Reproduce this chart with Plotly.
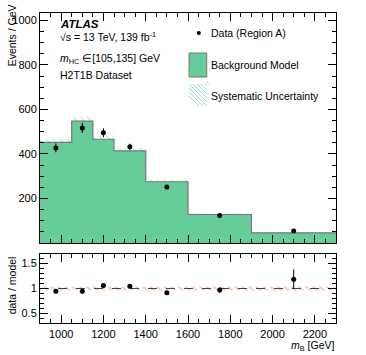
import plotly.graph_objects as go

# bins in m_B [GeV]
bin_edges = [900, 1050, 1150, 1250, 1400, 1600, 1900, 2300]
bin_centers = [975, 1100, 1200, 1325, 1500, 1750, 2100]
model = [452, 547, 466, 414, 275, 128, 45.5]
model_syst = [16, 19, 16, 14, 9, 4.5, 1.8]
data = [427, 517, 495, 432, 252, 124, 54]
data_err = [20, 23, 20, 14, 10, 7, 9]

y_ticks = [0, 200, 400, 600, 800, 1000]
y_ticktext = ["", "200", "400", "600", "800", "1000"]
r_ticks = [0.5, 1, 1.5]
r_ticktext = ["0.5", "1", "1.5"]
x_ticks = [1000, 1200, 1400, 1600, 1800, 2000, 2200]

GREEN = "#66cc99"
INK = "#000000"
FONT = "Liberation Sans, Arial, sans-serif"

W, H = 366, 355
L, R, T, B = 36, 30, 13, 32
PW, PH = W - L - R, H - T - B


def px(x, y):
    return (x - L) / PW, (H - B - y) / PH


def step(vals):
    return list(bin_edges), list(vals) + [vals[-1]]


def band(lo, hi):
    xs, ys = [], []
    for i in range(len(lo)):
        xs += [bin_edges[i], bin_edges[i + 1]]
        ys += [hi[i], hi[i]]
    for i in reversed(range(len(lo))):
        xs += [bin_edges[i + 1], bin_edges[i]]
        ys += [lo[i], lo[i]]
    return xs, ys


ratio = [d / m for d, m in zip(data, model)]
ratio_err = [e / m for e, m in zip(data_err, model)]
rel_syst = [s / m for s, m in zip(model_syst, model)]

fig = go.Figure()

bx, by = band([m - s for m, s in zip(model, model_syst)],
              [m + s for m, s in zip(model, model_syst)])
fig.add_trace(go.Scatter(
    x=bx, y=by, fill="toself", mode="lines", line={"width": 0},
    fillcolor="rgba(0,0,0,0)",
    fillpattern={"shape": "\\", "fgcolor": "#8fd9b6", "bgcolor": "rgba(0,0,0,0)",
                 "size": 5, "solidity": 0.3},
    xaxis="x", yaxis="y", hoverinfo="skip"))

sx, sy = step(model)
fig.add_trace(go.Scatter(
    x=sx, y=sy, mode="lines", line={"shape": "hv", "color": "#777777", "width": 1.2},
    fill="tozeroy", fillcolor=GREEN, xaxis="x", yaxis="y"))

fig.add_trace(go.Scatter(
    x=bin_centers, y=data, mode="markers",
    marker={"color": INK, "size": 5},
    error_y={"type": "data", "array": data_err, "width": 0, "color": INK, "thickness": 1},
    xaxis="x", yaxis="y"))

rx, ry = band([1 - s for s in rel_syst], [1 + s for s in rel_syst])
fig.add_trace(go.Scatter(
    x=rx, y=ry, fill="toself", mode="lines", line={"width": 0},
    fillcolor="rgba(0,0,0,0)",
    fillpattern={"shape": "\\", "fgcolor": "#e8906a", "bgcolor": "rgba(0,0,0,0)",
                 "size": 5, "solidity": 0.4},
    xaxis="x2", yaxis="y2", hoverinfo="skip"))

fig.add_trace(go.Scatter(
    x=[bin_edges[0], bin_edges[-1]], y=[1, 1], mode="lines",
    line={"color": "#444444", "width": 1, "dash": "dash"},
    xaxis="x2", yaxis="y2"))

fig.add_trace(go.Scatter(
    x=bin_centers, y=ratio, mode="markers",
    marker={"color": INK, "size": 5},
    error_y={"type": "data", "array": ratio_err, "width": 0, "color": INK, "thickness": 1},
    xaxis="x2", yaxis="y2"))

axis_common = dict(
    showline=True, linecolor=INK, linewidth=1, mirror="allticks",
    ticks="inside", ticklen=8, tickcolor=INK, showgrid=False, zeroline=False,
    tickfont={"size": 11, "color": INK, "family": FONT},
)

main_bottom = px(0, 243)[1]
ratio_top = px(0, 254)[1]

fig.update_layout(
    width=W, height=H,
    margin={"l": L, "r": R, "t": T, "b": B},
    paper_bgcolor="white", plot_bgcolor="white",
    showlegend=False,
    font={"family": FONT, "color": INK, "size": 11},
    xaxis=dict(axis_common, domain=[0, 1], range=[900, 2300], anchor="y",
               tickvals=x_ticks, showticklabels=False,
               minor={"ticks": "inside", "ticklen": 4, "dtick": 50, "tick0": 900,
                      "tickcolor": INK}),
    yaxis=dict(axis_common, domain=[main_bottom, 1], range=[0, 1033], anchor="x",
               tickvals=y_ticks, ticktext=y_ticktext,
               minor={"ticks": "inside", "ticklen": 4, "dtick": 50, "tick0": 0,
                      "tickcolor": INK}),
    xaxis2=dict(axis_common, domain=[0, 1], range=[900, 2300], anchor="y2",
                tickvals=x_ticks, ticklabelstandoff=1,
                minor={"ticks": "inside", "ticklen": 4, "dtick": 50, "tick0": 900,
                       "tickcolor": INK}),
    yaxis2=dict(axis_common, domain=[0, ratio_top], range=[0.31, 1.69], anchor="x2",
                tickvals=r_ticks, ticktext=r_ticktext,
                minor={"ticks": "inside", "ticklen": 4, "dtick": 0.1, "tick0": 0,
                       "tickcolor": INK}),
)


def text(x, y, s, size=10.5, xanchor="left", yanchor="middle", angle=0):
    ax, ay = px(x, y)
    fig.add_annotation(x=ax, y=ay, xref="paper", yref="paper", text=s,
                       showarrow=False, xanchor=xanchor, yanchor=yanchor,
                       textangle=angle, font={"size": size, "color": INK, "family": FONT})


text(54, 24, "<b><i>ATLAS</i></b>", size=11.5)
text(54, 37, "√s = 13 TeV, 139 fb<sup>-1</sup>")
text(54, 59, "<i>m</i><sub>HC</sub> ∈[105,135] GeV")
text(54, 75, "H2T1B Dataset")

text(207, 33, "Data (Region A)")
text(207, 65, "Background Model")
text(207, 96, "Systematic Uncertainty")

text(8, 2, "Events / GeV", size=10.5, xanchor="center", yanchor="top", angle=-90)
text(8, 254, "data / model", size=10.5, xanchor="center", yanchor="top", angle=-90)
text(337, 346, "<i>m</i><sub>B</sub> [GeV]", size=10.5, xanchor="right")

# legend swatches
dx, dy = px(197, 33)
fig.add_shape(type="circle", xref="paper", yref="paper",
              x0=dx - 2 / PW, x1=dx + 2 / PW, y0=dy - 2 / PH, y1=dy + 2 / PH,
              fillcolor=INK, line={"width": 0})
x0, y0 = px(187, 77)
x1, y1 = px(205, 53)
fig.add_shape(type="rect", xref="paper", yref="paper", x0=x0, x1=x1, y0=y0, y1=y1,
              fillcolor=GREEN, line={"color": "#777777", "width": 1})
for k in range(-3, 6):
    a0 = 187 + 4 * k
    ax0, ay0 = px(max(a0, 187), 84 + max(0, 187 - a0))
    ax1, ay1 = px(min(a0 + 22, 205), 84 + min(22, 205 - a0))
    fig.add_shape(type="line", xref="paper", yref="paper",
                  x0=ax0, y0=ay0, x1=ax1, y1=ay1,
                  line={"color": "#9adcbd", "width": 1})

fig.write_html("out.html", config={"displayModeBar": False},
               post_script="document.body.style.margin='0';")
